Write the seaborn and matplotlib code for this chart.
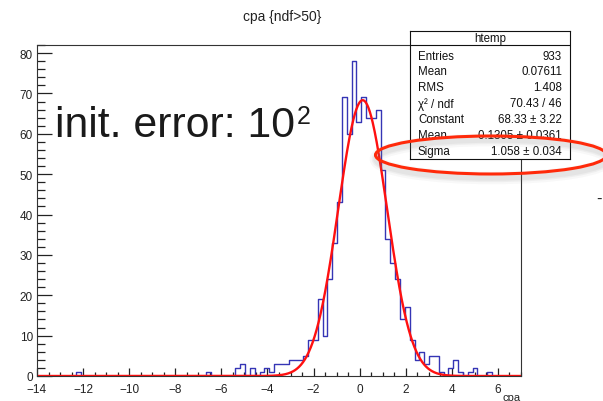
import numpy as np
import pandas as pd
import seaborn as sns
import matplotlib.pyplot as plt
from matplotlib.patches import Ellipse
from matplotlib.ticker import MultipleLocator

# histogram of cpa (100 bins from -14 to 7), counts
bin_lo = -14.0
bin_hi = 7.0
n_bins = 100
counts = [0, 0, 0, 0, 0, 0, 0, 0, 1, 0,
          0, 0, 0, 0, 0, 0, 0, 0, 0, 0,
          0, 0, 0, 0, 0, 0, 0, 0, 0, 0,
          0, 0, 0, 0, 0, 1, 0, 0, 0, 0,
          0, 2, 3, 0, 2, 0, 1, 2, 1, 3,
          3, 3, 4, 4, 4, 5, 9, 9, 19, 10,
          24, 33, 43, 69, 60, 78, 63, 69, 64, 64,
          66, 51, 34, 28, 24, 14, 17, 9, 4, 6,
          3, 5, 5, 1, 0, 2, 4, 1, 0, 1,
          2, 0, 0, 1, 0, 0, 0, 0, 0, 0]

# gaus fit parameters from the stats box
fit_const = 68.33
fit_mean = 0.1305
fit_sigma = 1.058

stat_names = ["Entries", "Mean", "RMS", "χ² / ndf", "Constant", "Mean", "Sigma"]
stat_values = ["933", "0.07611", "1.408", "70.43 / 46", "68.33 ± 3.22",
               "0.1305 ± 0.0361", "1.058 ± 0.034"]

sns.set_style("white")
plt.rcParams['font.family'] = ['Liberation Sans', 'DejaVu Sans']

W, H = 603, 402
fig = plt.figure(figsize=(W / 100, H / 100), dpi=100)

edges = np.linspace(bin_lo, bin_hi, n_bins + 1)
centers = (edges[:-1] + edges[1:]) / 2
df = pd.DataFrame({"cpa": centers, "n": counts})

ax = fig.add_axes([37 / W, 25 / H, 484 / W, 331 / H])
sns.histplot(data=df, x="cpa", weights="n", bins=n_bins, binrange=(bin_lo, bin_hi),
             element="step", fill=False, color="#3535b5", linewidth=1.0, ax=ax)

xs = np.linspace(bin_lo, bin_hi, 1000)
fit = pd.DataFrame({"x": xs, "y": fit_const * np.exp(-0.5 * ((xs - fit_mean) / fit_sigma) ** 2)})
sns.lineplot(data=fit, x="x", y="y", color="#ff1010", linewidth=1.7,
             estimator=None, sort=False, ax=ax)

ax.set_xlim(bin_lo, bin_hi)
ax.set_ylim(0, 82)
ax.set_xlabel("")
ax.set_ylabel("")
ax.xaxis.set_major_locator(MultipleLocator(2))
ax.xaxis.set_minor_locator(MultipleLocator(0.5))
ax.yaxis.set_major_locator(MultipleLocator(10))
ax.yaxis.set_minor_locator(MultipleLocator(2))
ax.tick_params(which='both', bottom=True, left=True, top=False, right=False)
ax.tick_params(axis='x', which='major', direction='in', length=5.8, width=0.9,
               labelsize=8.5, pad=4.8, colors='#222222')
ax.tick_params(axis='x', which='minor', direction='in', length=2.9, width=0.9, colors='#222222')
ax.tick_params(axis='y', which='major', direction='in', length=10.8, width=0.9,
               labelsize=8.5, pad=3, colors='#222222')
ax.tick_params(axis='y', which='minor', direction='in', length=5.8, width=0.9, colors='#222222')
for s in ax.spines.values():
    s.set_color('#333333')
    s.set_linewidth(0.8)

fig.text(282 / W, 1 - 17 / H, "cpa {ndf>50}", ha='center', va='center', fontsize=10, color='#222222')
fig.text(521 / W, 1 - 393 / H, "cpa", ha='right', va='top', fontsize=8, color='#222222')

# stats box
bx0, bx1, by0, by1 = 410, 570, 32, 160
box = fig.add_axes([bx0 / W, 1 - by1 / H, (bx1 - bx0) / W, (by1 - by0) / H])
box.set_xlim(0, bx1 - bx0)
box.set_ylim(by1 - by0, 0)
box.set_xticks([])
box.set_yticks([])
box.set_facecolor('white')
for s in box.spines.values():
    s.set_color('#111111')
    s.set_linewidth(0.8)
box.axhline(13.5, color='#111111', lw=0.8)
box.text((bx1 - bx0) / 2, 6.8, "htemp", ha='center', va='center', fontsize=8.3, color='#111111')
for i, (nm, val) in enumerate(zip(stat_names, stat_values)):
    yy = 24.5 + i * 15.9
    box.text(8, yy, nm, ha='left', va='center', fontsize=8.3, color='#111111')
    box.text(152, yy, val, ha='right', va='center', fontsize=8.3, color='#111111')

# overlay drawn on the slide: text and red ellipse
ov = fig.add_axes([0, 0, 1, 1])
ov.set_xlim(0, W)
ov.set_ylim(H, 0)
ov.axis('off')
ov.patch.set_alpha(0)
t = ov.text(55, 137, "init. error: 10", ha='left', va='baseline', fontsize=30.8, color='#1a1a1a')
ov.annotate("2", xy=(1, 1), xycoords=t, xytext=(1, 1), textcoords='offset points',
            ha='left', va='top', fontsize=18, color='#1a1a1a')
for lw_, a_ in [(9, 0.05), (6, 0.07), (4, 0.08)]:
    ov.add_patch(Ellipse((492, 160), 232, 38, fill=False, edgecolor='#777777', lw=lw_, alpha=a_))
ov.add_patch(Ellipse((491, 156), 231, 38, fill=False, edgecolor='#ff2a0a', lw=2.2))
ov.text(596, 199, "-", ha='left', va='center', fontsize=12, color='#222222')

fig.savefig("out.png", dpi=100)
